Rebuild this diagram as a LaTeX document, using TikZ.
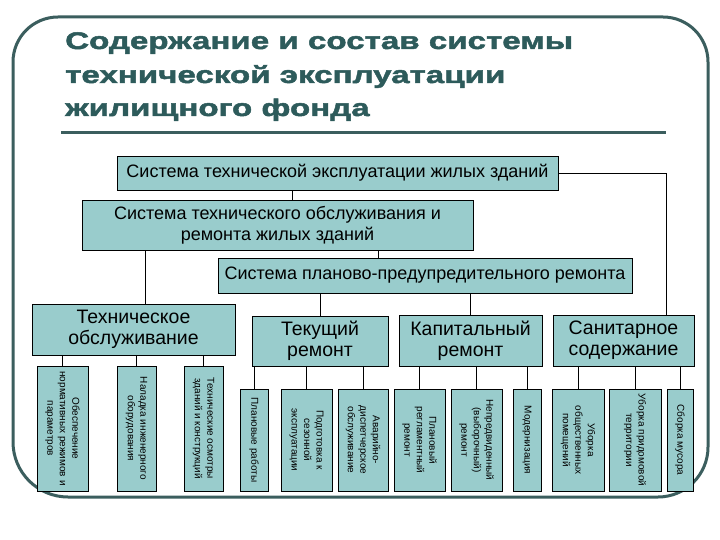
\documentclass[tikz,border=0pt]{standalone}
\usepackage{fontspec}
\setmainfont{Liberation Sans}
\newfontfamily\titlefont[FakeStretch=1.38,FakeBold=2]{Liberation Sans}
\definecolor{boxfill}{HTML}{99CCCC}
\definecolor{framec}{HTML}{3B5E5E}
\definecolor{titlec}{HTML}{2D5B5B}
\tikzset{
  box/.style={draw=black, line width=0.8pt, fill=boxfill, inner sep=0pt, align=center, font=\fontsize{18}{21}\selectfont},
  midbox/.style={box, font=\fontsize{19.5}{21}\selectfont},
  tallbox/.style={draw=black, line width=0.8pt, fill=boxfill, inner sep=0pt},
  talltext/.style={rotate=-90, align=center, inner sep=0pt, font=\fontsize{10}{12.5}\selectfont},
  conn/.style={draw=black, line width=0.8pt},
  titletext/.style={anchor=base west, inner sep=0pt, text=titlec, font=\titlefont\bfseries\fontsize{24}{33}\selectfont}
}
\begin{document}
\begin{tikzpicture}[x=1pt,y=-1pt]
\useasboundingbox (0,0) rectangle (720,540);
\fill[white] (0,0) rectangle (720,540);
% frame
\draw[framec, line width=3pt] (13,250) [rounded corners=45pt] -- (13,17) -- (708,17) [rounded corners=50pt] -- (708,497) [rounded corners=55pt] -- (13,497) [sharp corners] -- cycle;
% title
\node[titletext] (t1) at (65,49) {Содержание и состав системы};
\node[titletext] (t2) at (65,83) {технической эксплуатации};
\node[titletext] (t3) at (65,116) {жилищного фонда};
\draw[framec, line width=3pt] (61,133) -- (666,133);
% main boxes
\node[box, minimum width=441pt, minimum height=34pt] (b1) at (337.5,173) {Система технической эксплуатации жилых зданий};
\node[box, minimum width=391pt, minimum height=50pt] (b2) at (277.5,225) {Система технического обслуживания и\\ремонта жилых зданий};
\node[box, minimum width=414pt, minimum height=35pt] (b3) at (425,275.5) {Система планово-предупредительного ремонта};
\node[midbox, minimum width=203pt, minimum height=51pt] (to) at (133.5,329.5) {Техническое\\обслуживание};
\node[midbox, minimum width=136pt, minimum height=50pt] (tr) at (320,341) {Текущий\\ремонт};
\node[midbox, minimum width=143pt, minimum height=51pt] (kr) at (470.5,340.5) {Капитальный\\ремонт};
\node[midbox, minimum width=141pt, minimum height=51pt] (sc) at (623.5,340.5) {Санитарное\\содержание};
% tall boxes
\foreach \n/\x/\w/\y/\h/\t in {
  a/62.5/51/428.5/125/{Обеспечение\\нормативных режимов и\\параметров},
  b/136.5/39/428.5/125/{Наладка инженерного\\оборудования},
  c/203.5/39/428.5/125/{Технические осмотры\\зданий и конструкций},
  d/254/28/440/102/{Плановые работы},
  e/306.5/51/440/102/{Подготовка к\\сезонной\\эксплуатации},
  f/363/50/440/102/{Аварийно-\\диспетчерское\\обслуживание},
  g/419.5/51/440/102/{Плановый\\регламентный\\ремонт},
  h/476.5/51/440/102/{Непредвиденный\\(выборочный)\\ремонт},
  i/527/28/440/102/{Модернизация},
  j/578/52/440/102/{Уборка\\общественных\\помещений},
  k/635/52/440/102/{Уборка придомовой\\территории},
  l/680/26/440/102/{Сборка мусора}}{
  \node[tallbox, minimum width=\w pt, minimum height=\h pt] (\n) at (\x,\y) {};
  \node[talltext] (\n txt) at (\n.center) {\t};
}
% connectors
\draw[conn] ([xshift=-45.5pt]b1.south) -- ([xshift=-45.5pt]b1.south |- b2.north);
\draw[conn] ([xshift=100.5pt]b2.south) -- ([xshift=100.5pt]b2.south |- b3.north);
\draw[conn] ([xshift=-132.5pt]b2.south) -- ([xshift=-132.5pt]b2.south |- to.north);
\draw[conn] (tr.north) -- (tr.north |- b3.south);
\draw[conn] (kr.north) -- (kr.north |- b3.south);
\draw[conn] (b1.east) -| ([xshift=43pt]sc.north);
\foreach \c in {a,b,c} \draw[conn] (\c.north) -- (\c.north |- to.south);
\foreach \c in {d,e,f} \draw[conn] (\c.north) -- (\c.north |- tr.south);
\foreach \c in {g,h,i} \draw[conn] (\c.north) -- (\c.north |- kr.south);
\foreach \c in {j,k,l} \draw[conn] (\c.north) -- (\c.north |- sc.south);
\end{tikzpicture}
\end{document}
